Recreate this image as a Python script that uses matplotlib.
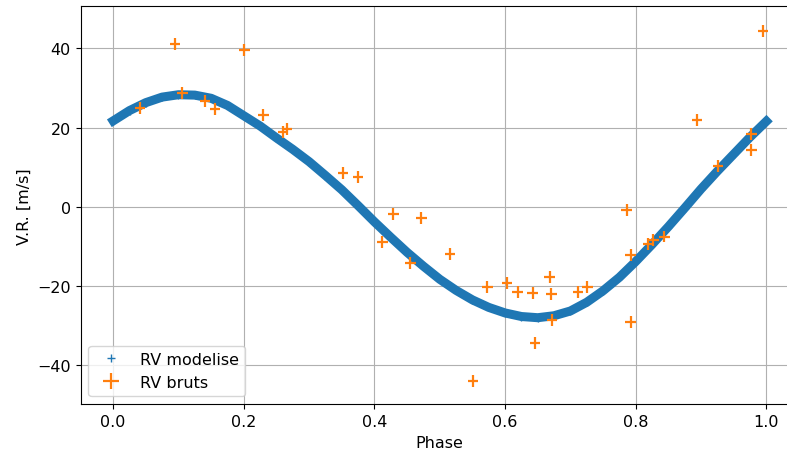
import matplotlib
matplotlib.use("Agg")
import matplotlib.pyplot as plt

# modele
phase_model = [0.0, 0.025, 0.05, 0.075, 0.1, 0.125, 0.15, 0.175, 0.2, 0.225,
               0.25, 0.275, 0.3, 0.325, 0.35, 0.375, 0.4, 0.425, 0.45, 0.475,
               0.5, 0.525, 0.55, 0.575, 0.6, 0.625, 0.65, 0.675, 0.7, 0.725,
               0.75, 0.775, 0.8, 0.825, 0.85, 0.875, 0.9, 0.925, 0.95, 0.975, 1.0]
rv_model = [21.7, 24.3, 26.3, 27.7, 28.3, 28.2, 27.4, 25.6, 23.0, 20.4,
            17.4, 14.5, 11.4, 7.9, 4.3, 0.3, -3.8, -7.7, -11.5, -15.0,
            -18.3, -21.1, -23.5, -25.4, -26.8, -27.7, -28.0, -27.5, -26.3, -24.1,
            -21.2, -17.8, -13.8, -9.5, -5.0, -0.3, 4.5, 9.0, 13.3, 17.6, 21.6]

# mesures brutes
phase_obs = [0.041, 0.095, 0.106, 0.141, 0.156, 0.201, 0.230, 0.260, 0.266, 0.352,
             0.375, 0.412, 0.429, 0.455, 0.472, 0.516, 0.551, 0.573, 0.603, 0.619,
             0.642, 0.646, 0.668, 0.671, 0.672, 0.712, 0.726, 0.786, 0.792, 0.792,
             0.819, 0.827, 0.844, 0.894, 0.926, 0.977, 0.977, 0.995]
rv_obs = [25.0, 41.2, 28.8, 26.8, 24.7, 39.6, 23.2, 18.9, 19.7, 8.6,
          7.6, -8.8, -1.8, -14.1, -2.8, -11.9, -43.9, -20.2, -19.3, -21.4,
          -21.8, -34.3, -17.8, -22.0, -28.6, -21.4, -20.3, -0.7, -12.2, -29.1,
          -9.3, -8.3, -7.5, 22.0, 10.3, 18.4, 14.4, 44.4]
err_phase = 0.008
err_rv = 1.5

plt.rcParams['font.size'] = 11.5

fig = plt.figure(figsize=(7.87, 4.52), dpi=100)
ax = fig.add_axes([0.1023, 0.103, 0.913, 0.8815])

ax.plot(phase_model, rv_model, '+', color='tab:blue', markersize=6, label='RV modelise')
ax.plot(phase_model, rv_model, '-', color='tab:blue', lw=6.5)
ax.errorbar(phase_obs, rv_obs, xerr=err_phase, yerr=err_rv, fmt='none',
            ecolor='tab:orange', elinewidth=1.6, label='RV bruts')

ax.set_xlim(-0.05, 1.05)
ax.set_ylim(-49.9, 50.7)
ax.set_xticks([0.0, 0.2, 0.4, 0.6, 0.8, 1.0])
ax.set_yticks([-40, -20, 0, 20, 40])
ax.grid(True)
ax.set_xlabel('Phase')
ax.set_ylabel('V.R. [m/s]')
ax.legend(loc='lower left')

fig.savefig('out.png', dpi=100)
